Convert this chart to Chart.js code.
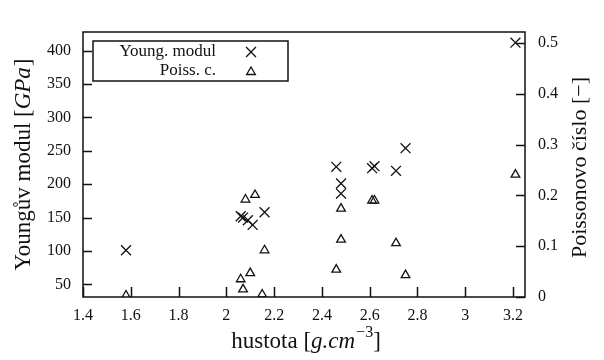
<!DOCTYPE html>
<html>
<head>
<meta charset="utf-8">
<script src="https://cdn.jsdelivr.net/npm/chart.js@4.4.1/dist/chart.umd.min.js"></script>
<style>
  html, body { margin: 0; padding: 0; background: #fff; }
  #wrap { width: 604px; height: 360px; }
</style>
</head>
<body>
<div id="wrap"><canvas id="chart"></canvas></div>
<script>
// density [g.cm^-3] vs Young modulus [GPa]
const youngDensity = [1.58, 2.06, 2.07, 2.09, 2.11, 2.16, 2.46, 2.48, 2.48, 2.61, 2.62, 2.71, 2.75, 3.21]
const youngModulus = [101, 152, 150, 146, 139, 158, 226, 201, 186, 224, 227, 220, 254, 412]

// density vs Poisson ratio [-]
const poissonDensity = [1.58, 2.08, 2.12, 2.16, 2.06, 2.10, 2.07, 2.15, 2.48, 2.48, 2.46, 2.61, 2.62, 2.71, 2.75, 3.21]
const poissonRatio = [0.003, 0.192, 0.201, 0.092, 0.035, 0.047, 0.015, 0.005, 0.174, 0.113, 0.054, 0.190, 0.190, 0.106, 0.043, 0.241]

const xRange = [1.4, 3.25]
const yLeftRange = [31, 428]
const yRightRange = [0, 0.522]

// axis titles, split into pieces so the units can be italic
const xTitle = [['hustota ', 0], ['[', 0], ['g.cm', 1], ['−3', 2], [']', 0]]
const yLeftTitle = [['Youngův modul ', 0], ['[', 0], ['GPa', 1], [']', 0]]
const yRightTitle = [['Poissonovo číslo [−]', 0]]

const FONT = "'Liberation Serif', 'DejaVu Serif', serif"
const INK = '#111'

function toPoints(xs, ys) {
    return xs.map((x, i) => ({x: x, y: ys[i]}))
}

// 0 = upright, 1 = italic, 2 = superscript
function pieceFont(kind, size) {
    if (kind === 1) return 'italic ' + size + 'px ' + FONT
    if (kind === 2) return Math.round(size * 0.68) + 'px ' + FONT
    return size + 'px ' + FONT
}

function drawRich(ctx, pieces, cx, cy, angle, size) {
    ctx.save()
    ctx.translate(cx, cy)
    ctx.rotate(angle)
    ctx.textBaseline = 'middle'
    ctx.textAlign = 'left'
    let w = 0
    pieces.forEach(p => { ctx.font = pieceFont(p[1], size); w += ctx.measureText(p[0]).width + (p[1] === 1 ? 1 : 0) })
    let x = -w / 2
    pieces.forEach(p => {
        ctx.font = pieceFont(p[1], size)
        ctx.fillText(p[0], x, p[1] === 2 ? -size * 0.38 : 0)
        x += ctx.measureText(p[0]).width + (p[1] === 1 ? 1 : 0)
    })
    ctx.restore()
}

// frame, inward tick marks, titles and the boxed legend
const framePlugin = {
    id: 'frame',
    afterDraw(chart) {
        const ctx = chart.ctx
        const a = chart.chartArea
        ctx.save()
        ctx.strokeStyle = INK
        ctx.fillStyle = INK
        ctx.lineWidth = 1.5
        ctx.strokeRect(a.left, a.top, a.right - a.left, a.bottom - a.top)

        const sx = chart.scales.x, yl = chart.scales.y, yr = chart.scales.y2
        ctx.beginPath()
        sx.ticks.forEach(t => {
            const p = Math.round(sx.getPixelForValue(t.value)) + 0.5
            ctx.moveTo(p, a.bottom); ctx.lineTo(p, a.bottom - 10)
        })
        yl.ticks.forEach(t => {
            const p = Math.round(yl.getPixelForValue(t.value)) + 0.5
            ctx.moveTo(a.left, p); ctx.lineTo(a.left + 9, p)
        })
        yr.ticks.forEach(t => {
            const p = Math.round(yr.getPixelForValue(t.value)) + 0.5
            ctx.moveTo(a.right, p); ctx.lineTo(a.right - 9, p)
        })
        ctx.stroke()

        const midY = (a.top + a.bottom) / 2
        drawRich(ctx, xTitle, (a.left + a.right) / 2 + 2, 342, 0, 23)
        drawRich(ctx, yLeftTitle, 24, midY, -Math.PI / 2, 23)
        drawRich(ctx, yRightTitle, 580, midY + 3, -Math.PI / 2, 22)

        // legend box
        const bx = a.left + 10, by = a.top + 9, bw = 195, bh = 40
        ctx.fillStyle = '#fff'
        ctx.fillRect(bx, by, bw, bh)
        ctx.strokeRect(bx, by, bw, bh)
        ctx.font = "17px " + FONT
        ctx.textAlign = 'right'
        ctx.textBaseline = 'middle'
        chart.data.datasets.forEach((ds, i) => {
            const ty = by + 11 + i * 19
            ctx.fillStyle = INK
            ctx.fillText(ds.label, bx + 123, ty)
            ctx.fillStyle = 'rgba(0,0,0,0)'
            ctx.lineWidth = ds.borderWidth
            Chart.helpers.drawPoint(ctx, {
                pointStyle: ds.pointStyle,
                radius: ds.pointRadius,
                borderWidth: ds.borderWidth
            }, bx + 158, ty + (ds.pointStyle === 'triangle' ? 1 : 0))
        })
        ctx.restore()
    }
}

const tickFont = {family: FONT, size: 16}

new Chart(document.getElementById('chart'), {
    type: 'scatter',
    data: {
        datasets: [{
            label: 'Young. modul',
            data: toPoints(youngDensity, youngModulus),
            yAxisID: 'y',
            pointStyle: 'crossRot',
            pointRadius: 7,
            borderWidth: 1.3,
            borderColor: INK,
            backgroundColor: INK,
        }, {
            label: 'Poiss. c.',
            data: toPoints(poissonDensity, poissonRatio),
            yAxisID: 'y2',
            pointStyle: 'triangle',
            pointRadius: 5,
            borderWidth: 1.3,
            borderColor: INK,
            backgroundColor: 'rgba(255,255,255,0)',
        }]
    },
    options: {
        responsive: true,
        maintainAspectRatio: false,
        animation: false,
        layout: {padding: {top: 32, left: 0, right: 0, bottom: 0}},
        plugins: {
            legend: {display: false},
            tooltip: {enabled: false}
        },
        scales: {
            x: {
                type: 'linear',
                min: xRange[0],
                max: xRange[1],
                grid: {display: false, drawTicks: false},
                border: {display: false},
                ticks: {
                    stepSize: 0.2,
                    includeBounds: false,
                    padding: 9,
                    color: INK,
                    maxRotation: 0,
                    font: tickFont,
                    callback: v => String(+v.toFixed(1))
                },
                afterFit: s => { s.height = 63 }
            },
            y: {
                position: 'left',
                min: yLeftRange[0],
                max: yLeftRange[1],
                grid: {display: false, drawTicks: false},
                border: {display: false},
                ticks: {
                    stepSize: 50,
                    includeBounds: false,
                    padding: 12,
                    color: INK,
                    font: tickFont
                },
                afterFit: s => { s.width = 83 }
            },
            y2: {
                position: 'right',
                min: yRightRange[0],
                max: yRightRange[1],
                grid: {display: false, drawTicks: false},
                border: {display: false},
                ticks: {
                    stepSize: 0.1,
                    includeBounds: false,
                    padding: 13,
                    color: INK,
                    font: tickFont
                },
                afterFit: s => { s.width = 79 }
            }
        }
    },
    plugins: [framePlugin]
})
</script>
</body>
</html>
